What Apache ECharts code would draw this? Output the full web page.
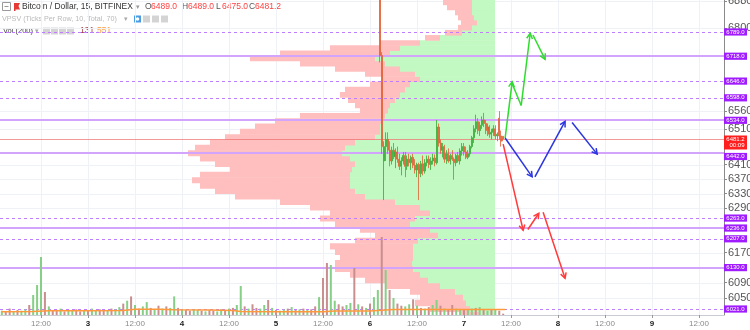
<!DOCTYPE html>
<html><head><meta charset="utf-8">
<script src="https://cdn.jsdelivr.net/npm/echarts@6/dist/echarts.min.js"></script>
<style>html,body{margin:0;padding:0;background:#fff;}#chart{width:750px;height:330px;}</style>
</head><body><div id="chart"></div>
<script>
// ---------------- data ----------------
const symbolTitle = 'Bitcoin / Dollar, 15, BITFINEX';
const profileTitle = 'VPSV (Ticks Per Row, 10, Total, 70)';
const volumeTitle = 'Vol (200)';
const countdown = '00:09';
const firstDay = 2;                 // hour 0 = day 2, 00:00
const timeTickHours = [12,24,36,48,60,72,84,96,108,120,132,144,156,168,180];
const priceTicks = [6050,6090,6170,6290,6330,6370,6410,6510,6560,6800,6880];

const levelPrices = [6789.0,6718.0,6646.0,6598.0,6534.0,6442.0,6263.0,6236.0,6207.0,6130.0,6021.0];
const levelKinds  = ['dash','solid','dash','dash','solid','solid','dash','solid','dash','solid','dash'];

// 30-minute candles (hours since day 2 00:00)
const candleTime = [98.5,99,99.5,100,100.5,101,101.5,102,102.5,103,103.5,104,104.5,105,105.5,106,106.5,107,107.5,108,108.5,109,109.5,110,110.5,111,111.5,112,112.5,113,113.5,114,114.5,115,115.5,116,116.5,117,117.5,118,118.5,119,119.5,120,120.5,121,121.5,122,122.5,123,123.5,124,124.5,125,125.5,126,126.5,127,127.5,128,128.5,129,129.5,130];
const candleOpen  = [7050,6720,6420,6460,6480,6450,6420,6450,6432,6445,6425,6405,6420,6435,6405,6425,6415,6430,6408,6395,6410,6385,6412,6392,6415,6425,6410,6420,6428,6415,6515,6470,6450,6460,6425,6440,6420,6435,6425,6415,6435,6420,6448,6460,6445,6430,6440,6460,6485,6510,6530,6505,6520,6535,6525,6505,6515,6495,6500,6510,6490,6540,6490,6489];
const candleHigh  = [7060,6730,6475,6500,6500,6475,6460,6470,6455,6460,6440,6430,6445,6445,6435,6440,6435,6440,6425,6415,6415,6420,6435,6425,6435,6435,6430,6440,6438,6535,6525,6480,6470,6465,6450,6455,6440,6450,6430,6440,6445,6455,6470,6470,6460,6450,6465,6490,6520,6550,6540,6530,6545,6555,6535,6525,6520,6510,6520,6520,6500,6560,6505,6489];
const candleLow   = [6700,6440,6312,6420,6440,6405,6410,6425,6400,6415,6395,6380,6410,6375,6395,6405,6395,6400,6385,6375,6312,6375,6380,6385,6405,6400,6395,6410,6405,6410,6460,6440,6430,6415,6412,6415,6410,6420,6368,6405,6415,6410,6435,6435,6425,6425,6432,6455,6470,6500,6495,6490,6510,6515,6495,6490,6485,6480,6490,6480,6475,6480,6460,6475];
const candleClose = [6720,6460,6460,6480,6450,6420,6450,6432,6445,6425,6405,6420,6435,6405,6425,6415,6430,6408,6395,6410,6385,6412,6392,6415,6425,6410,6420,6428,6415,6515,6470,6450,6460,6425,6440,6420,6435,6425,6415,6435,6420,6448,6460,6445,6430,6440,6460,6485,6510,6530,6505,6520,6535,6525,6505,6515,6495,6500,6510,6490,6495,6490,6475,6481.2];

// hourly volume
const volHours = [2,3,4,5,6,7,8,9,10,11,12,13,14,15,16,17,18,19,20,21,22,23,24,25,26,27,28,29,30,31,32,33,34,35,36,37,38,39,40,41,42,43,44,45,46,47,48,49,50,51,52,53,54,55,56,57,58,59,60,61,62,63,64,65,66,67,68,69,70,71,72,73,74,75,76,77,78,79,80,81,82,83,84,85,86,87,88,89,90,91,92,93,94,95,96,97,98,99,100,101,102,103,104,105,106,107,108,109,110,111,112,113,114,115,116,117,118,119,120,121,122,123,124,125,126,127,128,129,130];
const volValues = [430,360,640,360,500,430,570,1000,2000,3000,5800,2300,860,500,430,640,360,500,430,570,360,430,500,640,430,570,500,430,640,570,790,1140,1430,1860,1000,640,860,1290,710,570,930,640,860,710,1860,710,570,500,430,570,500,430,360,500,430,360,570,500,640,710,1000,2900,860,640,1070,710,640,1000,1500,710,500,430,570,640,790,500,570,640,500,570,860,1790,3700,5200,5000,1430,1070,860,1000,1200,4700,1070,860,710,1140,1790,2500,7800,4500,2500,1700,1140,930,860,1070,1570,930,710,640,790,1000,1500,930,640,570,1000,640,570,500,570,640,710,790,500,430,570,500,430,131];
const volDir = ['udduduuduu','ududduduud','duduuddudu','udududuudu','duduududdu','ududduudud','uududduudu','duudududud','dudduudduu','dududuudud','udduududud','uududduudu','ududududd'].join('');
const maHours  = [2,10,14,24,33,36,42,46,55,61,63,72,84,87,96,99,102,110,120,128,130.5];
const maValues = [330,350,430,430,450,570,570,520,500,450,340,330,330,400,400,470,550,560,560,560,551];

// volume profile rows (row low price, step 15)
const profileStep = 15;
const profileLow  = [6000,6015,6030,6045,6060,6075,6090,6105,6120,6135,6150,6165,6180,6195,6210,6225,6240,6255,6270,6285,6300,6315,6330,6345,6360,6375,6390,6405,6420,6435,6450,6465,6480,6495,6510,6525,6540,6555,6570,6585,6600,6615,6630,6645,6660,6675,6690,6705,6720,6735,6750,6765,6780,6795,6810,6825,6840,6855,6870];
const profileUp   = [15,25,29,32,40,55,67,75,82,83,82,82,82,77,57,65,85,80,65,75,100,130,140,145,145,145,143,140,145,153,150,140,120,115,115,113,110,107,105,100,95,90,85,75,80,95,110,120,105,95,75,55,33,23,18,21,23,23,23];
const profileDown = [20,40,51,43,45,55,63,70,78,77,73,78,83,63,63,70,75,95,100,110,115,130,140,150,158,150,122,140,150,154,150,145,150,140,125,107,85,28,35,47,60,60,40,38,50,65,85,125,110,70,40,15,17,14,16,16,17,25,29];

// projection arrows: start/end (hour, price)
const arrowH1 = [130.5,132.2,134.6,137.6, 130.5,138.1,147.6, 130.0,136.3,140.2];
const arrowP1 = [6484,6641,6576,6780, 6484,6376,6528, 6467,6232,6279];
const arrowH2 = [132.3,134.6,136.9,140.7, 137.4,145.8,154.0, 135.1,139.1,145.8];
const arrowP2 = [6644,6576,6785,6709, 6376,6531,6439, 6230,6276,6102];
const arrowKind = ['g','g','g','g','b','b','b','r','r','r'];
const arrowHead = [1,0,1,1,1,1,1,1,1,1];

// ---------------- chart ----------------
const L = Math.log;
const yMin = 6005.4, yMax = 6883.7;
const xMin = 1.532, xMax = 186.38;
const FONT = 'Liberation Sans, Arial, sans-serif';
const arrowColors = {g:'#2fdc2f', b:'#2a35e0', r:'#ff3b3b'};
const last = candleClose.length - 1;

const mctx = document.createElement('canvas').getContext('2d');
function fit(text, width){ mctx.font = '10px ' + FONT; return 10 * width / mctx.measureText(text).width; }

const chart = echarts.init(document.getElementById('chart'), null, {renderer:'canvas'});

function headPts(x1,y1,x2,y2,len){
  const a = Math.atan2(y2-y1, x2-x1), s = 0.5;
  return [[x2-len*Math.cos(a-s), y2-len*Math.sin(a-s)],[x2,y2],[x2-len*Math.cos(a+s), y2-len*Math.sin(a+s)]];
}
function txt(x,y,text,fill,size){ return {type:'text',style:{x:x,y:y,text:text,fill:fill,fontSize:size,fontFamily:FONT,verticalAlign:'middle'}}; }

const valSize = fit('6489.0', 26);
const option = {
  animation:false,
  backgroundColor:'#fff',
  textStyle:{fontFamily:FONT},
  grid:[{left:0,right:26,top:0,bottom:15,outerBoundsMode:'none',containLabel:false},
        {left:0,top:0,width:495,height:315,outerBoundsMode:'none',containLabel:false}],
  xAxis:[
    {type:'value',gridIndex:0,min:xMin,max:xMax,
     axisLine:{show:true,lineStyle:{color:'#c9ccd3'}},
     axisTick:{show:true,customValues:timeTickHours,length:3,lineStyle:{color:'#999'}},
     axisLabel:{customValues:timeTickHours,margin:5,hideOverlap:false,
       formatter:v=>{const h=Math.round(v);return h%24===0?'{d|'+(firstDay+h/24)+'}':'{t|'+String(h%24).padStart(2,'0')+':00}';},
       rich:{d:{fontSize:8,color:'#222',fontWeight:'bold',fontFamily:FONT},t:{fontSize:8,color:'#8a8a8a',fontFamily:FONT}}},
     splitLine:{show:false}},
    {type:'value',gridIndex:1,min:0,max:495,inverse:true,show:false}
  ],
  yAxis:[
    {type:'value',gridIndex:0,position:'right',min:L(yMin),max:L(yMax),
     axisLine:{show:true,lineStyle:{color:'#8a8a8a'}},
     axisTick:{show:true,customValues:priceTicks.map(L),length:3,lineStyle:{color:'#8a8a8a'}},
     axisLabel:{customValues:priceTicks.map(L),margin:4,fontSize:11,color:'#555',fontFamily:FONT,hideOverlap:false,
       formatter:v=>String(Math.round(Math.exp(v)))},
     splitLine:{show:false}},
    {type:'value',gridIndex:0,min:0,max:31500,show:false},
    {type:'value',gridIndex:1,min:L(yMin),max:L(yMax),show:false}
  ],
  series:[
    {type:'custom',xAxisIndex:0,yAxisIndex:0,z:1,silent:true,data:[0],
     renderItem:(params,api)=>{
       const cs=params.coordSys, ch=[];
       timeTickHours.forEach(h=>{ if(h<xMax){const x=Math.round(api.coord([h,L(6400)])[0])+0.5;
         ch.push({type:'line',shape:{x1:x,y1:cs.y,x2:x,y2:cs.y+cs.height},style:{stroke:'#eef1f6',lineWidth:1}});}});
       priceTicks.forEach(p=>{const y=Math.round(api.coord([xMin,L(p)])[1])+0.5;
         ch.push({type:'line',shape:{x1:cs.x,y1:y,x2:cs.x+cs.width,y2:y},style:{stroke:'#eef1f6',lineWidth:1}});});
       return {type:'group',children:ch};
     }},
    {type:'custom',xAxisIndex:1,yAxisIndex:2,z:2,silent:true,clip:true,
     data:profileLow.map((p,i)=>[i]),
     renderItem:(params,api)=>{
       const i=params.dataIndex, p=profileLow[i];
       const top=api.coord([0,L(p+profileStep)])[1], bot=api.coord([0,L(p)])[1];
       const x0=api.coord([0,L(p)])[0];
       const x1=api.coord([profileUp[i],L(p)])[0];
       const x2=api.coord([profileUp[i]+profileDown[i],L(p)])[0];
       return {type:'group',children:[
         {type:'rect',shape:{x:x1,y:top,width:x0-x1,height:bot-top+0.6},style:{fill:'#c2f8c2'}},
         {type:'rect',shape:{x:x2,y:top,width:x1-x2,height:bot-top+0.6},style:{fill:'#ffbfbf'}}
       ]};
     }},
    {type:'custom',xAxisIndex:0,yAxisIndex:0,z:6,silent:true,clip:false,data:[0],
     renderItem:(params,api)=>{
       const cs=params.coordSys, ch=[];
       const right=cs.x+cs.width;
       levelPrices.forEach((p,i)=>{
         const y=api.coord([xMin,L(p)])[1];
         if(levelKinds[i]==='dash'){
           const yy=Math.round(y)+0.5;
           ch.push({type:'line',shape:{x1:cs.x,y1:yy,x2:right,y2:yy},style:{stroke:'#c07cff',lineWidth:1,lineDash:[3,3]}});
         } else {
           const yy=Math.round(y);
           ch.push({type:'line',shape:{x1:cs.x,y1:yy,x2:right,y2:yy},style:{stroke:'#d3a4fb',lineWidth:2}});
         }
       });
       const yl=Math.round(api.coord([xMin,L(candleClose[last])])[1])+0.5;
       ch.push({type:'line',shape:{x1:cs.x,y1:yl,x2:right,y2:yl},style:{stroke:'rgba(240,110,110,0.7)',lineWidth:1}});
       levelPrices.forEach((p,i)=>{
         let y=api.coord([xMin,L(p)])[1];
         if(Math.abs(y-yl)<16 && y>yl) y=yl+17;
         ch.push({type:'rect',shape:{x:right,y:y-3.6,width:23,height:7.2},style:{fill:'#a01cff'}});
         ch.push({type:'text',style:{x:right+11.5,y:y,text:p.toFixed(1),fill:'#fff',fontSize:6,fontFamily:FONT,align:'center',verticalAlign:'middle'}});
       });
       ch.push({type:'rect',shape:{x:right,y:yl-4,width:23,height:14},style:{fill:'#ff1f1f'}});
       ch.push({type:'text',style:{x:right+11.5,y:yl-0.5,text:candleClose[last].toFixed(1),fill:'#fff',fontSize:6,fontFamily:FONT,align:'center',verticalAlign:'middle'}});
       ch.push({type:'text',style:{x:right+13,y:yl+6.3,text:countdown,fill:'#fff',fontSize:6,fontFamily:FONT,align:'center',verticalAlign:'middle'}});
       return {type:'group',children:ch};
     }},
    {type:'bar',xAxisIndex:0,yAxisIndex:1,z:7,barWidth:2,silent:true,
     data:volHours.map((h,i)=>({value:[h,volValues[i]],itemStyle:{color:volDir[i]==='d'?'#c98e8e':'#86cf86'}}))},
    {type:'line',xAxisIndex:0,yAxisIndex:1,z:8,silent:true,showSymbol:false,
     data:maHours.map((h,i)=>[h,maValues[i]]),lineStyle:{color:'#ff9a3c',width:1.5}},
    {type:'candlestick',xAxisIndex:0,yAxisIndex:0,z:9,silent:true,barWidth:1.5,
     data:candleTime.map((t,i)=>[t,L(candleOpen[i]),L(candleClose[i]),L(candleLow[i]),L(candleHigh[i])]),
     itemStyle:{color:'rgba(60,175,60,0.85)',color0:'rgba(225,95,50,0.8)',borderColor:'rgba(60,175,60,0.85)',borderColor0:'rgba(225,95,50,0.8)',borderWidth:1}},
    {type:'custom',xAxisIndex:0,yAxisIndex:0,z:10,silent:true,clip:false,
     data:arrowH1.map((h,i)=>[i]),
     renderItem:(params,api)=>{
       const i=params.dataIndex;
       const a=api.coord([arrowH1[i],L(arrowP1[i])]), b=api.coord([arrowH2[i],L(arrowP2[i])]);
       const col=arrowColors[arrowKind[i]];
       const ch=[{type:'line',shape:{x1:a[0],y1:a[1],x2:b[0],y2:b[1]},style:{stroke:col,lineWidth:1.5}}];
       if(arrowHead[i]) ch.push({type:'polyline',shape:{points:headPts(a[0],a[1],b[0],b[1],6)},style:{stroke:col,lineWidth:1.5,fill:null}});
       return {type:'group',children:ch};
     }}
  ],
  graphic:[
    {type:'rect',shape:{x:2.5,y:2.5,width:8,height:8},style:{fill:'#fff',stroke:'#999',lineWidth:1}},
    {type:'line',shape:{x1:4.5,y1:6.5,x2:8.5,y2:6.5},style:{stroke:'#999',lineWidth:1}},
    {type:'polygon',shape:{points:[[14,3],[20,3],[18.5,6],[20,9.5],[15.5,9.5],[15.5,11],[14,11]]},style:{fill:'#e53935'}},
    txt(22,7,symbolTitle,'#333',fit(symbolTitle,111)),
    txt(136,7,'▾','#999',7),
    txt(145,7,'O','#555',valSize),
    txt(151,7,candleOpen[last].toFixed(1),'#ff4040',valSize),
    txt(182,7,'H','#555',valSize),
    txt(188,7,candleHigh[last].toFixed(1),'#ff4040',valSize),
    txt(216,7,'L','#555',valSize),
    txt(222,7,candleLow[last].toFixed(1),'#ff4040',valSize),
    txt(249,7,'C','#555',valSize),
    txt(255,7,candleClose[last].toFixed(1),'#ff4040',valSize),
    txt(2,19,profileTitle,'#b9b9b9',fit(profileTitle,115)),
    txt(124,19,'▾','#aaa',7),
    {type:'rect',shape:{x:134,y:15.5,width:7,height:7},style:{fill:'#4a9be0'}},
    {type:'circle',shape:{cx:137.5,cy:19,r:1.8},style:{fill:'#fff'}},
    {type:'rect',shape:{x:143,y:15.5,width:7,height:7},style:{fill:'#d4d4d4'}},
    {type:'rect',shape:{x:152,y:15.5,width:7,height:7},style:{fill:'#d4d4d4'}},
    {type:'rect',shape:{x:161,y:15.5,width:7,height:7},style:{fill:'#d4d4d4'}},
    txt(3,31,volumeTitle,'#444',fit(volumeTitle,30)),
    txt(35,31,'▾','#aaa',7),
    {type:'rect',shape:{x:43,y:27.5,width:7,height:7},style:{fill:'#d4d4d4'}},
    {type:'rect',shape:{x:51,y:27.5,width:7,height:7},style:{fill:'#d4d4d4'}},
    {type:'rect',shape:{x:59,y:27.5,width:7,height:7},style:{fill:'#d4d4d4'}},
    {type:'rect',shape:{x:67,y:27.5,width:7,height:7},style:{fill:'#d4d4d4'}},
    txt(80,31,String(volValues[volValues.length-1]),'#a83a3a',valSize),
    txt(97,31,String(maValues[maValues.length-1]),'#ff9a3c',valSize)
  ]
};
chart.setOption(option);
</script></body></html>
